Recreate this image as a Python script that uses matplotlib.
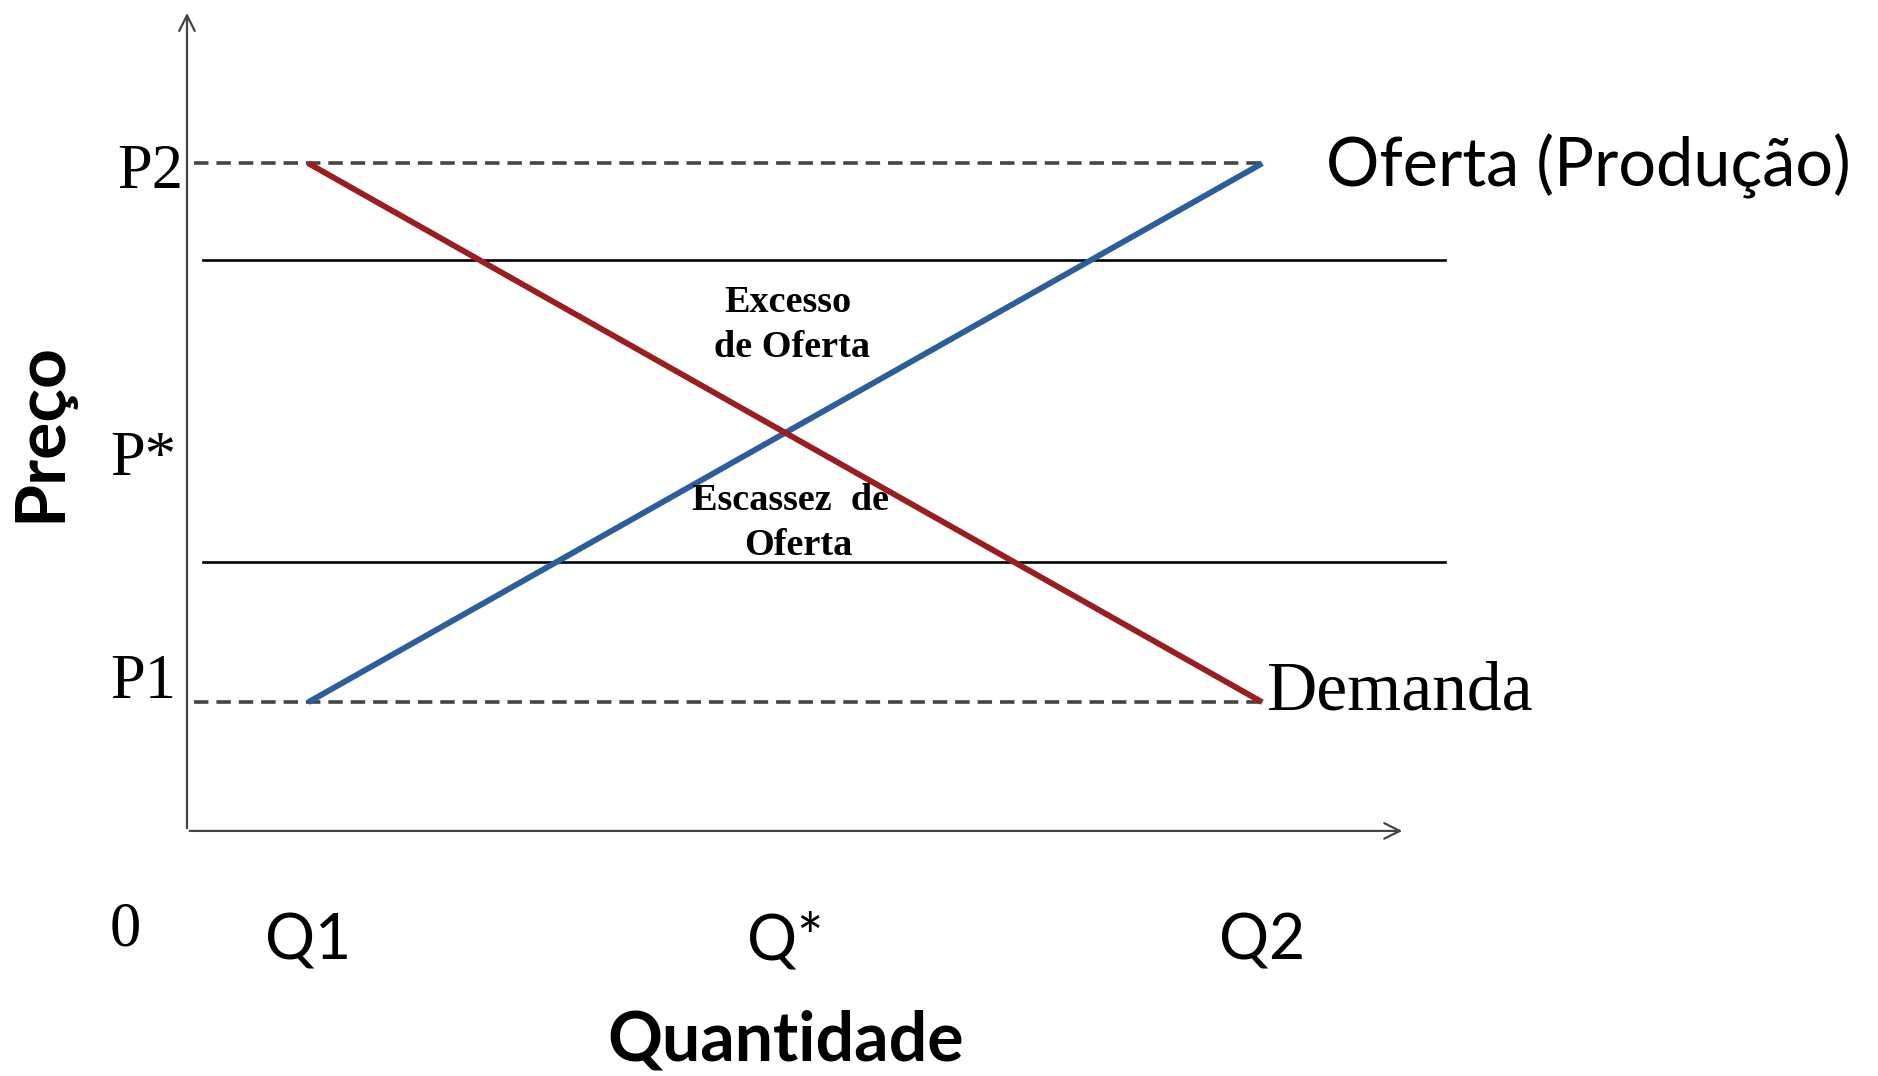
import matplotlib.pyplot as plt

# quantities and prices (arbitrary units)
q_labels = ["Q1", "Q*", "Q2"]
q_values = [1, 5, 9]
p_labels = ["P1", "P*", "P2"]
p_values = [1, 3, 5]

supply_q = [1, 9]
supply_p = [1, 5]
demand_q = [1, 9]
demand_p = [5, 1]

# price levels of the two bands (excess above, shortage below)
band_prices = [4.28, 2.04]
band_q = [0.12, 10.53]

W, H = 1878, 1076
fig = plt.figure(figsize=(W / 100, H / 100), dpi=100)
ax = fig.add_axes([0, 0, 1, 1])
ax.set_xlim(-1.585, 14.163)
ax.set_ylim(-1.774, 6.212)
ax.axis("off")


def pix(x, y):
    # figure pixel (from top-left) -> figure fraction
    return x / W, 1 - y / H


serif = "Liberation Serif"
sans = "Lato"

# axes with arrows
ax.annotate("", xy=(-0.017, 6.137), xytext=(-0.017, 0.045),
            arrowprops=dict(arrowstyle="->", lw=1.6, color="#444444", mutation_scale=28))
ax.annotate("", xy=(10.197, 0.045), xytext=(-0.017, 0.045),
            arrowprops=dict(arrowstyle="->", lw=1.6, color="#444444", mutation_scale=28))

# dashed reference lines at P1 and P2
ax.plot([0.04, q_values[2]], [p_values[2], p_values[2]], color="#444444", lw=2.6,
        dashes=(4, 2.2))
ax.plot([0.04, q_values[2]], [p_values[0], p_values[0]], color="#444444", lw=2.6,
        dashes=(4, 2.2))

# band lines
for bp in band_prices:
    ax.plot(band_q, [bp, bp], color="black", lw=1.9)

# curves
ax.plot(supply_q, supply_p, color="#2c5e9b", lw=4.2, solid_capstyle="butt")
ax.plot(demand_q, demand_p, color="#9b1e1e", lw=4.2, solid_capstyle="butt")

# price labels
fig.text(*pix(117, 188), p_labels[2], family=serif, fontsize=45, va="baseline")
fig.text(*pix(110, 475), p_labels[1], family=serif, fontsize=45, va="baseline")
fig.text(*pix(110, 698), p_labels[0], family=serif, fontsize=45, va="baseline")
fig.text(*pix(110, 945), "0", family=serif, fontsize=45, va="baseline")

# quantity labels
for q, lab in zip(q_values, q_labels):
    ax.text(q, (837 - 960) / 134.75, lab, family=sans, fontsize=45,
            ha="center", va="baseline")

fig.text(*pix(786, 1060), "Quantidade", family=sans, fontsize=49,
         fontweight="bold", ha="center", va="baseline")
fig.text(*pix(60, 432), "Preço", family=sans, fontsize=50, fontweight="bold",
         rotation=90, rotation_mode="anchor", ha="center", va="baseline")

fig.text(*pix(1326, 186), "Oferta (Produção)", family=sans, fontsize=48,
         va="baseline")
fig.text(*pix(1267, 710), "Demanda", family=serif, fontsize=50, va="baseline")

# band annotations
fig.text(*pix(788, 312), "Excesso", family=serif, fontsize=27.5,
         fontweight="bold", ha="center", va="baseline")
fig.text(*pix(792, 357), "de Oferta", family=serif, fontsize=27.5,
         fontweight="bold", ha="center", va="baseline")
fig.text(*pix(790, 510), "Escassez  de", family=serif, fontsize=27.5,
         fontweight="bold", ha="center", va="baseline")
fig.text(*pix(798, 555), "Oferta", family=serif, fontsize=27.5,
         fontweight="bold", ha="center", va="baseline")

fig.savefig("out.png", dpi=100)
